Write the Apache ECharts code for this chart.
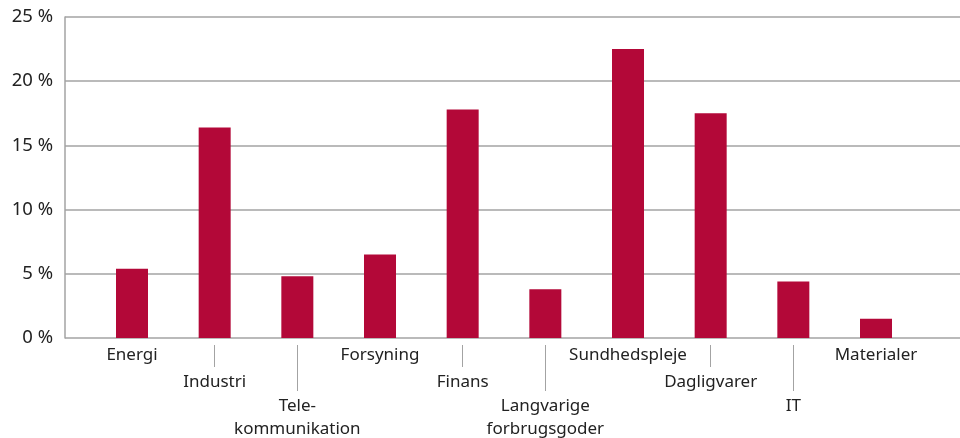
<!DOCTYPE html>
<html>
<head>
<meta charset="utf-8">
<script src="https://cdn.jsdelivr.net/npm/echarts@6/dist/echarts.min.js"></script>
<style>
html,body{margin:0;padding:0;background:#fff;}
#c{width:960px;height:438px;}
</style>
</head>
<body>
<div id="c"></div>
<script>
const categories = ["Energi","Industri","Tele-\nkommunikation","Forsyning","Finans","Langvarige\nforbrugsgoder","Sundhedspleje","Dagligvarer","IT","Materialer"];
const values = [5.4, 16.4, 4.8, 6.5, 17.8, 3.8, 22.5, 17.5, 4.4, 1.5];
const labelLevels = [0,1,2,0,1,2,0,1,2,0];
const yTicks = [0,5,10,15,20,25];

const FONT = 'Noto Sans';
const gridColor = '#a3a3a3';
const textColor = '#222';

function levelAxis(level, offset, margin, tickLen){
  return {
    type:'category', gridIndex:1, position:'bottom', data:categories, offset:offset,
    axisLine:{show:false},
    axisTick:{show:tickLen>0, alignWithLabel:true, length:tickLen,
      interval:(i)=>labelLevels[i]===level,
      lineStyle:{color:gridColor,width:1}},
    axisLabel:{interval:(i)=>labelLevels[i]===level, margin:margin,
      color:textColor, fontFamily:FONT, fontSize:17, lineHeight:23},
    splitLine:{show:false}
  };
}

const chart = echarts.init(document.getElementById('c'), null, {renderer:'canvas'});
chart.setOption({
  animation:false,
  grid:[
    {left:65, right:0, top:17, bottom:100, containLabel:false, outerBoundsMode:'none'},
    {left:90.67, width:826.67, top:17, bottom:100, containLabel:false, outerBoundsMode:'none'}
  ],
  xAxis:[
    levelAxis(0, 0, 6, 0),
    levelAxis(1, 7, 26, 22),
    levelAxis(2, 7, 50, 46),
    {type:'value', gridIndex:0, show:false, min:0, max:1}
  ],
  yAxis:[
    {type:'value', gridIndex:0, min:yTicks[0], max:yTicks[yTicks.length-1], interval:5,
      axisLine:{show:true, lineStyle:{color:gridColor, width:1.5}},
      axisTick:{show:false},
      axisLabel:{formatter:'{value} %', color:textColor, fontFamily:FONT, fontSize:18.5, margin:12},
      splitLine:{show:true, lineStyle:{color:gridColor, width:1.5}}},
    {type:'value', gridIndex:1, min:0, max:25, interval:5, show:false,
      splitLine:{show:false}}
  ],
  series:[{
    type:'bar', xAxisIndex:0, yAxisIndex:1, data:values, barWidth:32,
    itemStyle:{color:'#b30838'}, z:3
  }]
});
</script>
</body>
</html>
